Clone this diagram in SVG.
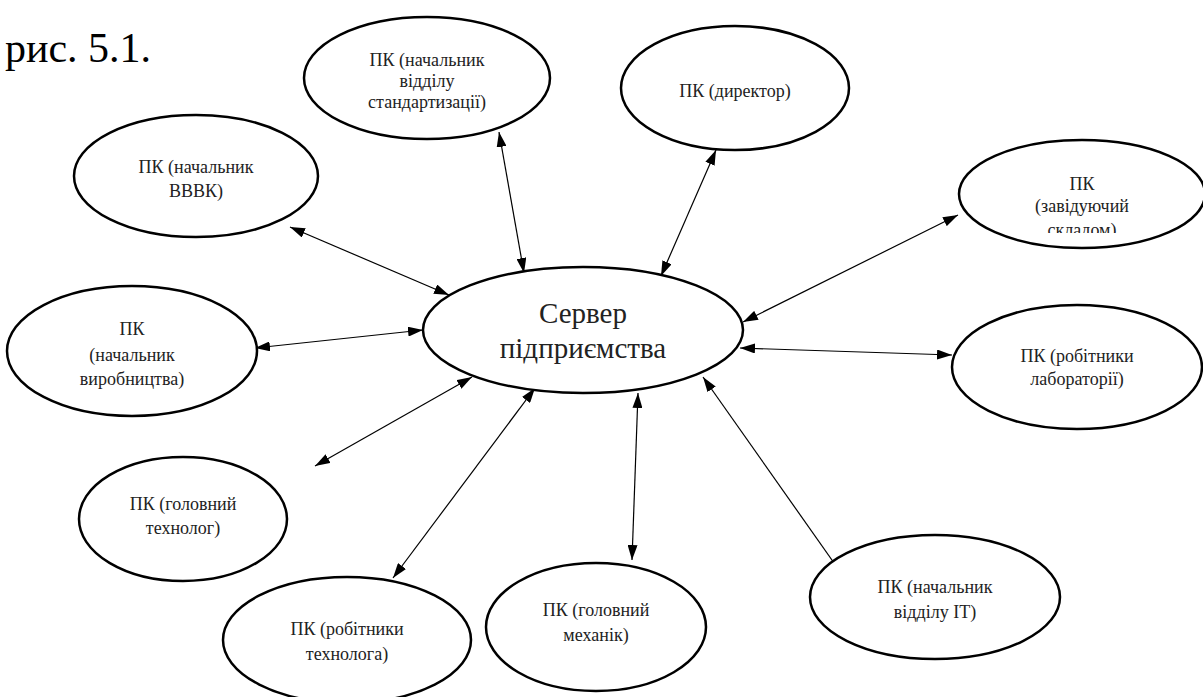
<svg xmlns="http://www.w3.org/2000/svg" width="1203" height="697" viewBox="0 0 1203 697">
<style>
.n ellipse{fill:#fff;stroke:#000;stroke-width:2.5}
.t{font-size:18px;fill:#222;text-anchor:middle}
.big{font-size:29px}
.cap{font-size:42px;fill:#000}
.c line{stroke:#000;stroke-width:1.2;marker-start:url(#a);marker-end:url(#a)}
</style>
<defs>
<marker id="a" viewBox="0 0 15 10" refX="15" refY="5" markerWidth="15" markerHeight="10" markerUnits="userSpaceOnUse" orient="auto-start-reverse">
<path d="M0,0 L15,5 L0,10 z" fill="#000"/>
</marker>
<clipPath id="clipStore"><rect x="900" y="100" width="303" height="133"/></clipPath>
</defs>
<rect width="1203" height="697" fill="#fff"/>
<g font-family="Liberation Serif, DejaVu Serif, serif">
<text class="cap" x="5" y="62">рис. 5.1.</text>

<g class="c" id="connectors">
<line x1="290" y1="227" x2="449" y2="295"/>
<line x1="499" y1="132" x2="524" y2="273"/>
<line x1="716" y1="150" x2="661" y2="276"/>
<line x1="958" y1="215" x2="743" y2="322"/>
<line x1="255" y1="348" x2="423" y2="330"/>
<line x1="952" y1="355" x2="740" y2="348"/>
<line x1="315" y1="466" x2="472" y2="377"/>
<line x1="393" y1="578" x2="535" y2="388"/>
<line x1="632" y1="560" x2="638" y2="393"/>
<line x1="858" y1="597" x2="703" y2="377"/>
</g>

<g class="n" id="n-std"><ellipse cx="427" cy="78" rx="123" ry="61"/>
<text class="t" x="427" y="66">ПК (начальник</text><text class="t" x="427" y="87">відділу</text><text class="t" x="427" y="108">стандартизації)</text></g>

<g class="n" id="n-dir"><ellipse cx="735" cy="88" rx="114" ry="62"/>
<text class="t" x="735" y="97">ПК (директор)</text></g>

<g class="n" id="n-vvvk"><ellipse cx="196" cy="176" rx="122" ry="61"/>
<text class="t" x="196" y="173">ПК (начальник</text><text class="t" x="196" y="197">ВВВК)</text></g>

<g class="n" id="n-store"><ellipse cx="1082" cy="194" rx="123" ry="54"/>
<g clip-path="url(#clipStore)"><text class="t" x="1082" y="190">ПК</text><text class="t" x="1082" y="212">(завідуючий</text><text class="t" x="1082" y="236">складом)</text></g></g>

<g class="n" id="n-server"><ellipse cx="583" cy="330" rx="160" ry="63"/>
<text class="t big" x="583" y="323">Сервер</text><text class="t big" x="583" y="358">підприємства</text></g>

<g class="n" id="n-prod"><ellipse cx="132" cy="351" rx="125" ry="65"/>
<text class="t" x="132" y="335">ПК</text><text class="t" x="132" y="361">(начальник</text><text class="t" x="132" y="385">виробництва)</text></g>

<g class="n" id="n-lab"><ellipse cx="1077" cy="367" rx="125" ry="62"/>
<text class="t" x="1077" y="362">ПК (робітники</text><text class="t" x="1077" y="385">лабораторії)</text></g>

<g class="n" id="n-tech"><ellipse cx="183" cy="519" rx="104" ry="62"/>
<text class="t" x="183" y="510">ПК (головний</text><text class="t" x="183" y="534">технолог)</text></g>

<g class="n" id="n-techw"><ellipse cx="347" cy="640" rx="124" ry="63"/>
<text class="t" x="347" y="635">ПК (робітники</text><text class="t" x="347" y="660">технолога)</text></g>

<g class="n" id="n-mech"><ellipse cx="596" cy="627" rx="110" ry="64"/>
<text class="t" x="596" y="616">ПК (головний</text><text class="t" x="596" y="641">механік)</text></g>

<g class="n" id="n-it"><ellipse cx="935" cy="597" rx="125" ry="62"/>
<text class="t" x="935" y="593">ПК (начальник</text><text class="t" x="935" y="618">відділу IT)</text></g>
</g>
</svg>
